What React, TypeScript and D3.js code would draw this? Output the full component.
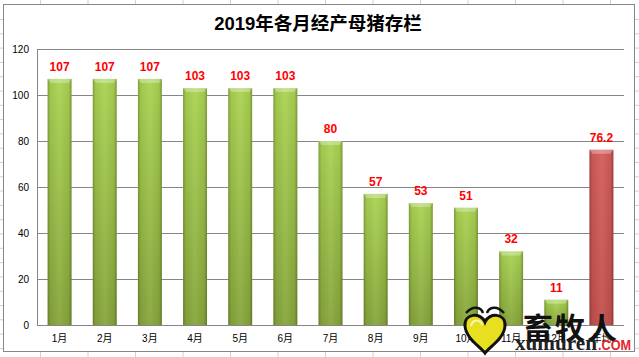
import React from "react";
import * as d3 from "d3";

const categories = ["1月", "2月", "3月", "4月", "5月", "6月", "7月", "8月", "9月", "10月", "11月", "12月", "年均"];
const values = [107, 107, 107, 103, 103, 103, 80, 57, 53, 51, 32, 11, 76.2];
const yTicks = [0, 20, 40, 60, 80, 100, 120];
const title = "2019年各月经产母猪存栏";

const W = 639;
const H = 357;
const FONT = "'Liberation Sans', 'Noto Sans CJK SC', sans-serif";

export default function App() {
  const left = 37, right = 624, top = 49, bottom = 325;
  const x = d3.scaleBand<string>().domain(categories).range([left, right]).paddingInner(0.47).paddingOuter(0.235);
  const y = d3.scaleLinear().domain([0, 120]).range([bottom, top]);
  const bw = x.bandwidth();

  const colLines = d3.range(0, 14).map((i) => 40.5 + i * 47.5);
  const rowLines = d3.range(0, 26).map((i) => 19.5 + i * 14.3);

  const heart = "M0,-6 C-4,-16 -21,-15 -20,-2 C-19,11 -4,19 0,25 C4,19 19,11 20,-2 C21,-15 4,-16 0,-6 Z";

  return (
    <div style={{ position: "fixed", left: 0, top: 0, width: W, height: H, overflow: "hidden", background: "#fff" }}>
      <svg width={W} height={H} style={{ display: "block" }}>
        <defs>
          <linearGradient id="gH" x1="0" x2="1" y1="0" y2="0">
            <stop offset="0" stopColor="#000" stopOpacity="0.25" />
            <stop offset="0.12" stopColor="#000" stopOpacity="0.05" />
            <stop offset="0.5" stopColor="#fff" stopOpacity="0.06" />
            <stop offset="0.88" stopColor="#000" stopOpacity="0.05" />
            <stop offset="1" stopColor="#000" stopOpacity="0.28" />
          </linearGradient>
          <linearGradient id="gGreen" x1="0" x2="0" y1="0" y2="1">
            <stop offset="0" stopColor="#aad352" />
            <stop offset="1" stopColor="#86a53b" />
          </linearGradient>
          <linearGradient id="gRed" x1="0" x2="0" y1="0" y2="1">
            <stop offset="0" stopColor="#d25c59" />
            <stop offset="1" stopColor="#c24f4c" />
          </linearGradient>
        </defs>
        {/* spreadsheet grid */}
        {colLines.map((cx, i) => (
          <line key={"c" + i} x1={cx} x2={cx} y1={0} y2={H} stroke="#d0d0d0" />
        ))}
        {rowLines.map((ry, i) => (
          <line key={"r" + i} x1={0} x2={W} y1={ry} y2={ry} stroke="#d0d0d0" />
        ))}
        {/* chart frame */}
        <rect x={3.5} y={4.5} width={631} height={347} fill="#fff" stroke="#878787" />
        <text x={318} y={30} textAnchor="middle" fontFamily={FONT} fontWeight="bold" fontSize={18.5} fill="#000">
          {title}
        </text>
        {/* gridlines */}
        {yTicks.map((t) => (
          <g key={t}>
            {t > 0 && <line x1={left} x2={right} y1={Math.round(y(t)) + 0.5} y2={Math.round(y(t)) + 0.5} stroke="#868686" />}
            <text x={29} y={y(t) + 3.5} textAnchor="end" fontFamily={FONT} fontSize={10} fill="#000">
              {t}
            </text>
          </g>
        ))}
        {/* bars */}
        {categories.map((c, i) => {
          const v = values[i];
          const x0 = x(c)!;
          const y0 = y(v);
          const h = bottom - y0;
          const isAvg = i === categories.length - 1;
          const fill = isAvg ? "url(#gRed)" : "url(#gGreen)";
          const cap = Math.min(4, h / 2);
          return (
            <g key={c}>
              <rect x={x0} y={y0} width={bw} height={h} fill={fill} />
              <rect x={x0} y={y0} width={bw} height={h} fill="url(#gH)" />
              <path
                d={`M${x0},${y0} L${x0 + bw},${y0} L${x0 + bw - 3},${y0 + cap} L${x0 + 3},${y0 + cap} Z`}
                fill="#fff"
                fillOpacity={0.3}
              />
              <text
                x={x0 + bw / 2}
                y={y0 - 8}
                textAnchor="middle"
                fontFamily={FONT}
                fontWeight="bold"
                fontSize={12}
                fill="#ff0000"
              >
                {isAvg ? v.toFixed(1) : v}
              </text>
              <text x={x0 + bw / 2} y={342} textAnchor="middle" fontFamily={FONT} fontSize={10} fill="#000">
                {c}
              </text>
            </g>
          );
        })}
        {/* axes */}
        <line x1={left + 0.5} x2={left + 0.5} y1={top} y2={bottom} stroke="#868686" />
        <line x1={left} x2={right} y1={bottom + 0.5} y2={bottom + 0.5} stroke="#868686" />
        {/* watermark */}
        <g transform="translate(485,328)">
          <path d={heart} fill="#e8df20" stroke="#111" strokeWidth={3} />
          <path d="M-14,-2 C-12,-10 -4,-8 -3,-3" fill="none" stroke="#fff" strokeWidth={2} opacity={0.7} />
          <path d="M-19,-15 C-12,-23 -4,-21 -2,-15" fill="none" stroke="#111" strokeWidth={2.5} />
          <path d="M19,-15 C12,-23 4,-21 2,-15" fill="none" stroke="#111" strokeWidth={2.5} />
        </g>
        <text x={571} y={339} textAnchor="middle" fontFamily="'Noto Sans CJK SC', sans-serif" fontWeight="bold" fontSize={30} fill="#111" letterSpacing={2}>
          畜牧人
        </text>
        <text x={515} y={350} fontFamily="'Liberation Serif', serif" fontWeight="bold" fontSize={20} fill="#222" textLength={82} lengthAdjust="spacingAndGlyphs">
          xumuren
        </text>
        <text x={598} y={350} fontFamily="'Liberation Sans', sans-serif" fontWeight="bold" fontSize={14} fill="#e8232a" textLength={33} lengthAdjust="spacingAndGlyphs">
          .COM
        </text>
      </svg>
    </div>
  );
}
